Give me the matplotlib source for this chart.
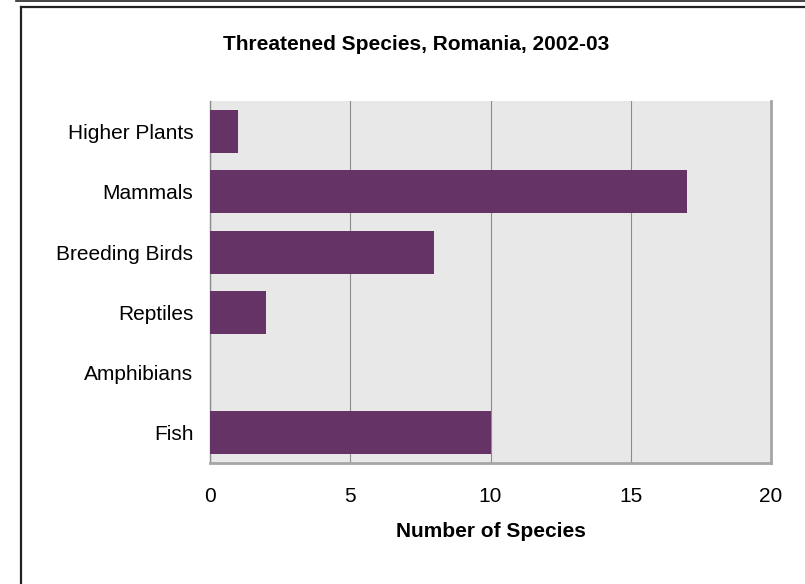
import matplotlib
matplotlib.use("Agg")
import matplotlib.pyplot as plt
from matplotlib.lines import Line2D

plt.rcParams['font.family'] = ['Liberation Sans', 'DejaVu Sans']

# data
categories = ['Higher Plants', 'Mammals', 'Breeding Birds', 'Reptiles', 'Amphibians', 'Fish']
species_counts = [1, 17, 8, 2, 0, 10]
x_ticks = [0, 5, 10, 15, 20]

W, H = 805, 584
fig = plt.figure(figsize=(W / 100, H / 100), dpi=100)
fig.patch.set_facecolor('white')


def fx(px):
    return px / W


def fy(py):
    return 1 - py / H


# outer frame lines
fig.add_artist(Line2D([fx(16), fx(W)], [fy(0.5), fy(0.5)], color='#222222', lw=1.2))
fig.add_artist(Line2D([fx(21), fx(21)], [fy(7), fy(H)], color='#222222', lw=1.6))
fig.add_artist(Line2D([fx(21), fx(W)], [fy(7), fy(7)], color='#222222', lw=1.6))

ax = fig.add_axes([fx(210), fy(463), fx(771) - fx(210), fy(101.5) - fy(463)])
ax.set_facecolor('#e8e8e8')

y_pos = list(range(len(categories)))
ax.barh(y_pos, species_counts, height=0.71, color='#663366', zorder=3)
ax.set_ylim(len(categories) - 0.5, -0.5)
ax.set_yticks(y_pos)
ax.set_yticklabels(categories, fontsize=15)
ax.set_xlim(0, 20)
ax.set_xticks(x_ticks)
ax.set_xticklabels([str(t) for t in x_ticks], fontsize=15)
ax.tick_params(axis='both', length=0)
ax.tick_params(axis='y', pad=12)
ax.tick_params(axis='x', pad=17)

ax.grid(axis='x', color='#8c8c8c', lw=0.8, zorder=1)
ax.spines['top'].set_visible(False)
ax.spines['left'].set_color('#8c8c8c')
ax.spines['left'].set_linewidth(1.0)
ax.spines['right'].set_color('#a6a6a6')
ax.spines['right'].set_linewidth(2.0)
ax.spines['bottom'].set_color('#a6a6a6')
ax.spines['bottom'].set_linewidth(2.0)

ax.set_xlabel('Number of Species', fontsize=15, fontweight='bold', labelpad=12)
fig.text(fx(416), fy(44), 'Threatened Species, Romania, 2002-03', fontsize=15,
         fontweight='bold', ha='center', va='center')

fig.savefig('out.png', dpi=100)
